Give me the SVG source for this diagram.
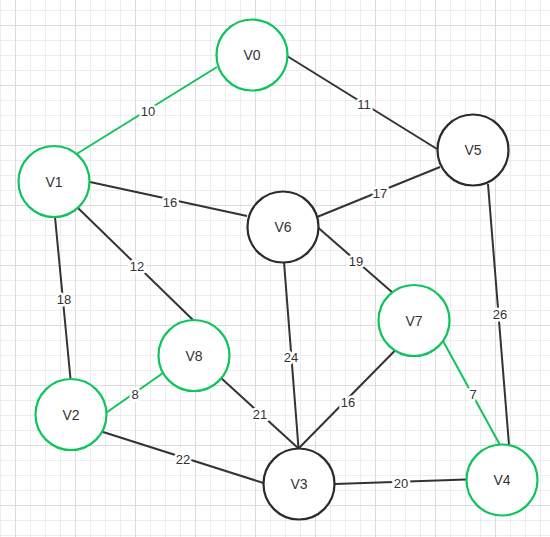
<svg xmlns="http://www.w3.org/2000/svg" width="550" height="537" viewBox="0 0 550 537">
  <style>
    .node circle { fill: #ffffff; stroke-width: 2.2; }
    .g circle { stroke: #10c45c; }
    .k circle { stroke: #2b2b2b; }
    .node text { font-family: "Liberation Sans", Arial, sans-serif; font-size: 14px; fill: #333333; text-anchor: middle; dominant-baseline: central; }
    .edge { stroke-width: 2; fill: none; }
    .eg { stroke: #10c45c; }
    .ek { stroke: #333333; }
    .lbl { font-family: "Liberation Sans", Arial, sans-serif; font-size: 13px; fill: #333333; text-anchor: middle; dominant-baseline: central; stroke: #ffffff; stroke-width: 5; paint-order: stroke; stroke-linejoin: round; }
  </style>
  <defs>
    <pattern id="grid" patternUnits="userSpaceOnUse" x="15" y="25" width="60" height="60">
      <rect x="15" y="0" width="1" height="60" fill="#ececec"/>
      <rect x="30" y="0" width="1" height="60" fill="#ececec"/>
      <rect x="45" y="0" width="1" height="60" fill="#ececec"/>
      <rect x="0" y="15" width="60" height="1" fill="#ececec"/>
      <rect x="0" y="30" width="60" height="1" fill="#ececec"/>
      <rect x="0" y="45" width="60" height="1" fill="#ececec"/>
      <rect x="0" y="0" width="1" height="60" fill="#dcdcdc"/>
      <rect x="0" y="0" width="60" height="1" fill="#dcdcdc"/>
    </pattern>
  </defs>
  <rect width="550" height="537" fill="#ffffff"/>
  <rect width="550" height="537" fill="url(#grid)"/>

  <g id="connectors">
    <line class="edge eg" x1="76.5" y1="154" x2="217" y2="67"/>
    <line class="edge ek" x1="287" y1="56" x2="437" y2="149"/>
    <line class="edge ek" x1="90" y1="182" x2="247" y2="216"/>
    <line class="edge ek" x1="317" y1="217" x2="440" y2="167"/>
    <line class="edge ek" x1="78" y1="208" x2="193" y2="320"/>
    <line class="edge ek" x1="55" y1="217" x2="70.5" y2="379"/>
    <line class="edge eg" x1="106.5" y1="412.5" x2="163" y2="373"/>
    <line class="edge ek" x1="318.5" y1="228" x2="393" y2="293"/>
    <line class="edge ek" x1="284" y1="262" x2="298.5" y2="448"/>
    <line class="edge ek" x1="220.5" y1="377.5" x2="298" y2="448"/>
    <line class="edge ek" x1="395" y1="350.5" x2="299" y2="448"/>
    <line class="edge eg" x1="442.5" y1="340" x2="500" y2="445"/>
    <line class="edge ek" x1="488" y1="184" x2="509" y2="445"/>
    <line class="edge ek" x1="101.5" y1="431.5" x2="263.5" y2="483"/>
    <line class="edge ek" x1="335" y1="484" x2="466" y2="479.5"/>

    <text class="lbl" x="148" y="111">10</text>
    <text class="lbl" x="364" y="104">11</text>
    <text class="lbl" x="170" y="202">16</text>
    <text class="lbl" x="380" y="193">17</text>
    <text class="lbl" x="137" y="266">12</text>
    <text class="lbl" x="64" y="299">18</text>
    <text class="lbl" x="135" y="394">8</text>
    <text class="lbl" x="356" y="261">19</text>
    <text class="lbl" x="291" y="357">24</text>
    <text class="lbl" x="260" y="414">21</text>
    <text class="lbl" x="348" y="402">16</text>
    <text class="lbl" x="473" y="394">7</text>
    <text class="lbl" x="500" y="314">26</text>
    <text class="lbl" x="183" y="459">22</text>
    <text class="lbl" x="401" y="483">20</text>
  </g>

  <g id="V0" class="node g"><circle cx="252" cy="55" r="35.5"/><text x="252" y="55">V0</text></g>
  <g id="V1" class="node g"><circle cx="54" cy="181.5" r="35.5"/><text x="54" y="181.5">V1</text></g>
  <g id="V2" class="node g"><circle cx="71" cy="414.5" r="35.5"/><text x="71" y="414.5">V2</text></g>
  <g id="V3" class="node k"><circle cx="299" cy="484" r="35.5"/><text x="299" y="484">V3</text></g>
  <g id="V4" class="node g"><circle cx="502" cy="480" r="35.5"/><text x="502" y="480">V4</text></g>
  <g id="V5" class="node k"><circle cx="473" cy="150" r="35.5"/><text x="473" y="150">V5</text></g>
  <g id="V6" class="node k"><circle cx="283" cy="227" r="35.5"/><text x="283" y="227">V6</text></g>
  <g id="V7" class="node g"><circle cx="414" cy="320.5" r="35.5"/><text x="414" y="320.5">V7</text></g>
  <g id="V8" class="node g"><circle cx="194" cy="355.5" r="35.5"/><text x="194" y="355.5">V8</text></g>
</svg>
